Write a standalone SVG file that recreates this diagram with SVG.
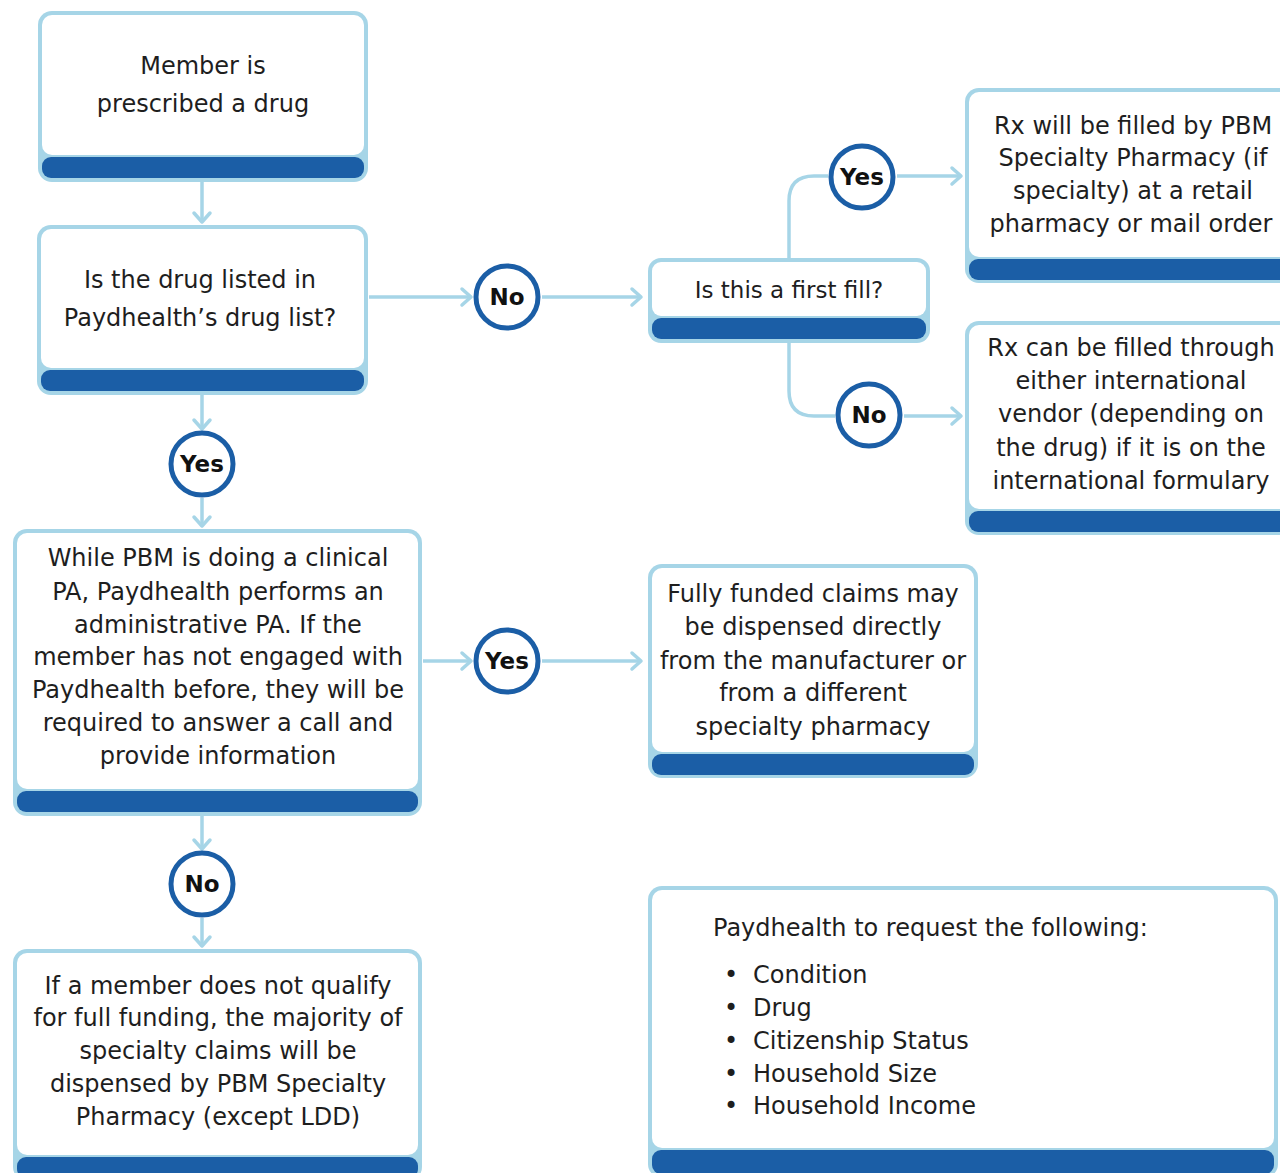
<svg xmlns="http://www.w3.org/2000/svg" width="1280" height="1173" viewBox="0 0 1280 1173">
<style>
.frame{fill:#a6d5e7}
.band{fill:#1b5ea6}
.face{fill:#ffffff}
.t{font-family:"DejaVu Sans","Liberation Sans",sans-serif;font-size:24px;fill:#1e1e1e;text-anchor:middle}
.tl{font-family:"DejaVu Sans","Liberation Sans",sans-serif;font-size:24px;fill:#1e1e1e}
.c{fill:#ffffff;stroke:#1b5ea6;stroke-width:5}
.cl{font-family:"DejaVu Sans","Liberation Sans",sans-serif;font-size:23px;font-weight:bold;fill:#111;text-anchor:middle}
.conn{fill:none;stroke:#a6d5e7;stroke-width:3.5;stroke-linejoin:round}
</style>
<defs>
<marker id="arr" markerUnits="userSpaceOnUse" viewBox="-12 -10 14 20" refX="0" refY="0" markerWidth="14" markerHeight="20" orient="auto" overflow="visible">
<path d="M-9,-8 L0,0 L-9,8" fill="none" stroke="#a6d5e7" stroke-width="3.5" stroke-linecap="round" stroke-linejoin="round"/>
</marker>
</defs>
<rect width="1280" height="1173" fill="#ffffff"/>

<g id="connectors">
<path class="conn" d="M202,182 V222" marker-end="url(#arr)"/>
<path class="conn" d="M202,395 V429" marker-end="url(#arr)"/>
<path class="conn" d="M202,498 V526" marker-end="url(#arr)"/>
<path class="conn" d="M202,815 V849" marker-end="url(#arr)"/>
<path class="conn" d="M202,918 V946" marker-end="url(#arr)"/>
<path class="conn" d="M369,297 H471" marker-end="url(#arr)"/>
<path class="conn" d="M542,297 H641" marker-end="url(#arr)"/>
<path class="conn" d="M789,258 V201 Q789,176 814,176 H828"/>
<path class="conn" d="M897,176 H961" marker-end="url(#arr)"/>
<path class="conn" d="M789,343 V391 Q789,416 814,416 H835"/>
<path class="conn" d="M904,416 H961" marker-end="url(#arr)"/>
<path class="conn" d="M423,661 H471" marker-end="url(#arr)"/>
<path class="conn" d="M542,661 H641" marker-end="url(#arr)"/>
</g>

<g id="node-prescribed">
<rect class="frame" x="38" y="11" width="330" height="171" rx="14"/>
<rect class="band" x="42" y="157" width="322" height="21" rx="9"/>
<rect class="face" x="42" y="15" width="322" height="140" rx="10"/>
<text class="t" x="203" y="74">Member is</text>
<text class="t" x="203" y="112">prescribed a drug</text>
</g>

<g id="node-druglist">
<rect class="frame" x="37" y="225" width="331" height="170" rx="14"/>
<rect class="band" x="41" y="370" width="323" height="21" rx="9"/>
<rect class="face" x="41" y="229" width="323" height="139" rx="10"/>
<text class="t" x="200" y="288">Is the drug listed in</text>
<text class="t" x="200" y="326">Paydhealth’s drug list?</text>
</g>

<g id="circle-yes-1">
<circle class="c" cx="202" cy="464" r="31"/>
<text class="cl" x="202" y="472">Yes</text>
</g>

<g id="node-pa">
<rect class="frame" x="13" y="529" width="409" height="287" rx="14"/>
<rect class="band" x="17" y="791" width="401" height="21" rx="9"/>
<rect class="face" x="17" y="533" width="401" height="256" rx="10"/>
<text class="t" x="218" y="566">While PBM is doing a clinical</text>
<text class="t" x="218" y="600">PA, Paydhealth performs an</text>
<text class="t" x="218" y="633">administrative PA. If the</text>
<text class="t" x="218" y="665">member has not engaged with</text>
<text class="t" x="218" y="698">Paydhealth before, they will be</text>
<text class="t" x="218" y="731">required to answer a call and</text>
<text class="t" x="218" y="764">provide information</text>
</g>

<g id="circle-no-2">
<circle class="c" cx="202" cy="884" r="31"/>
<text class="cl" x="202" y="892">No</text>
</g>

<g id="node-notqualify">
<rect class="frame" x="13" y="949" width="409" height="232" rx="14"/>
<rect class="band" x="17" y="1157" width="401" height="21" rx="9"/>
<rect class="face" x="17" y="953" width="401" height="202" rx="10"/>
<text class="t" x="218" y="994">If a member does not qualify</text>
<text class="t" x="218" y="1026">for full funding, the majority of</text>
<text class="t" x="218" y="1059">specialty claims will be</text>
<text class="t" x="218" y="1092">dispensed by PBM Specialty</text>
<text class="t" x="218" y="1125">Pharmacy (except LDD)</text>
</g>

<g id="circle-no-1">
<circle class="c" cx="507" cy="297" r="31"/>
<text class="cl" x="507" y="305">No</text>
</g>

<g id="node-firstfill">
<rect class="frame" x="648" y="258" width="282" height="85" rx="13"/>
<rect class="band" x="652" y="318" width="274" height="21" rx="9"/>
<rect class="face" x="652" y="262" width="274" height="54" rx="9"/>
<text class="t" x="789" y="298" style="font-size:23px">Is this a first fill?</text>
</g>

<g id="circle-yes-2">
<circle class="c" cx="862" cy="177" r="31"/>
<text class="cl" x="862" y="185">Yes</text>
</g>

<g id="circle-no-3">
<circle class="c" cx="869" cy="415" r="31"/>
<text class="cl" x="869" y="423">No</text>
</g>

<g id="node-pbm-specialty">
<rect class="frame" x="965" y="88" width="340" height="195" rx="14"/>
<rect class="band" x="969" y="259" width="332" height="21" rx="9"/>
<rect class="face" x="969" y="92" width="332" height="165" rx="10"/>
<text class="t" x="1133" y="134">Rx will be filled by PBM</text>
<text class="t" x="1133" y="166">Specialty Pharmacy (if</text>
<text class="t" x="1133" y="199">specialty) at a retail</text>
<text class="t" x="1131" y="232">pharmacy or mail order</text>
</g>

<g id="node-international">
<rect class="frame" x="965" y="321" width="340" height="214" rx="14"/>
<rect class="band" x="969" y="511" width="332" height="21" rx="9"/>
<rect class="face" x="969" y="325" width="332" height="184" rx="10"/>
<text class="t" x="1131" y="356">Rx can be filled through</text>
<text class="t" x="1131" y="389">either international</text>
<text class="t" x="1131" y="422">vendor (depending on</text>
<text class="t" x="1131" y="456">the drug) if it is on the</text>
<text class="t" x="1131" y="489">international formulary</text>
</g>

<g id="circle-yes-3">
<circle class="c" cx="507" cy="661" r="31"/>
<text class="cl" x="507" y="669">Yes</text>
</g>

<g id="node-fullyfunded">
<rect class="frame" x="648" y="564" width="330" height="214" rx="14"/>
<rect class="band" x="652" y="754" width="322" height="21" rx="9"/>
<rect class="face" x="652" y="568" width="322" height="184" rx="10"/>
<text class="t" x="813" y="602">Fully funded claims may</text>
<text class="t" x="813" y="635">be dispensed directly</text>
<text class="t" x="813" y="669">from the manufacturer or</text>
<text class="t" x="813" y="701">from a different</text>
<text class="t" x="813" y="735">specialty pharmacy</text>
</g>

<g id="node-request">
<rect class="frame" x="648" y="886" width="630" height="292" rx="14"/>
<rect class="band" x="652" y="1150" width="622" height="24" rx="9"/>
<rect class="face" x="652" y="890" width="622" height="258" rx="10"/>
<text class="tl" x="713" y="936">Paydhealth to request the following:</text>
<text class="tl" x="724" y="983">•</text>
<text class="tl" x="753" y="983">Condition</text>
<text class="tl" x="724" y="1016">•</text>
<text class="tl" x="753" y="1016">Drug</text>
<text class="tl" x="724" y="1049">•</text>
<text class="tl" x="753" y="1049">Citizenship Status</text>
<text class="tl" x="724" y="1082">•</text>
<text class="tl" x="753" y="1082">Household Size</text>
<text class="tl" x="724" y="1114">•</text>
<text class="tl" x="753" y="1114">Household Income</text>
</g>
</svg>
